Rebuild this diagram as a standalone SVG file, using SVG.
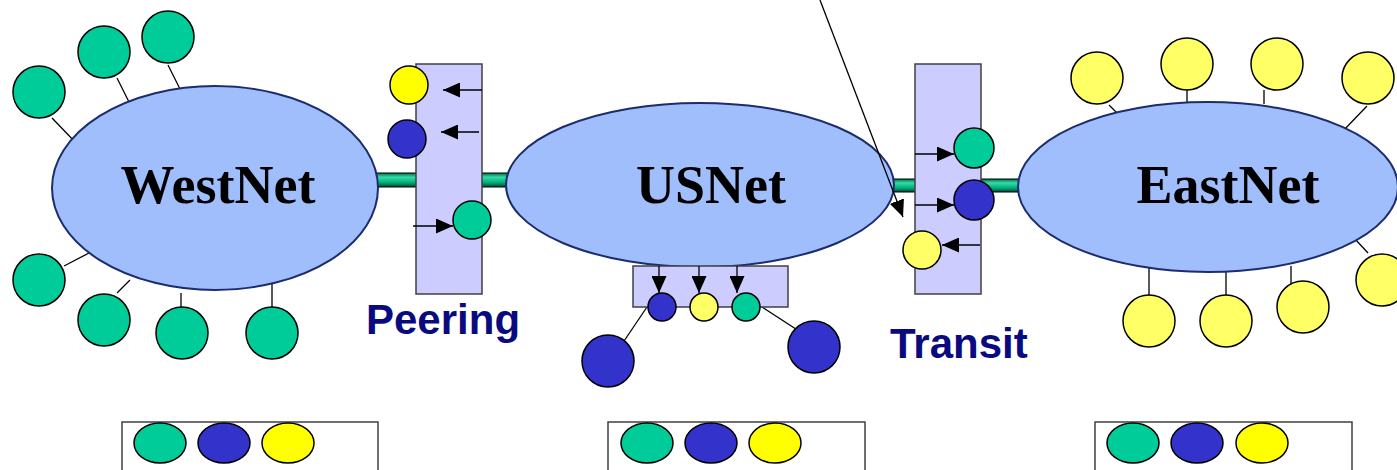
<svg xmlns="http://www.w3.org/2000/svg" width="1397" height="470" viewBox="0 0 1397 470">
<style>
.net{fill:#A0BEFC;stroke:#1C2C6C;stroke-width:2}
.netlbl{font-family:"Liberation Serif","Times New Roman",serif;font-weight:bold;font-size:54px;fill:#000;text-anchor:middle}
.lbl{font-family:"Liberation Sans",Arial,sans-serif;font-weight:bold;font-size:42px;fill:#0A0A80}
.box{fill:#CCCCFF;stroke:#404040;stroke-width:1.5}
.leg{fill:#FFFFFF;stroke:#404040;stroke-width:1.5}
.g{fill:#00CC99;stroke:#000;stroke-width:1.5}
.b{fill:#3333CC;stroke:#000;stroke-width:1.5}
.y{fill:#FFFF66;stroke:#000;stroke-width:1.5}
.yy{fill:#FFFF00;stroke:#000;stroke-width:1.5}
.ln{stroke:#000;stroke-width:1.3;fill:none}
.arr{stroke:#000;stroke-width:1.3;fill:none;marker-end:url(#ah)}
.pipe{fill:url(#pg);stroke:#000;stroke-width:1}
</style>
<defs>
<marker id="ah" markerUnits="userSpaceOnUse" markerWidth="17" markerHeight="15" refX="17" refY="7.5" orient="auto">
<path d="M0,0 L17,7.5 L0,15 Z" fill="#000"/>
</marker>
<linearGradient id="pg" x1="0" y1="0" x2="0" y2="1">
<stop offset="0" stop-color="#006644"/>
<stop offset="0.3" stop-color="#33DDAA"/>
<stop offset="0.7" stop-color="#00AA77"/>
<stop offset="1" stop-color="#004433"/>
</linearGradient>
</defs>
<g id="connectors">
<rect class="pipe" x="370" y="173" width="50" height="14"/>
<rect class="pipe" x="478" y="173" width="36" height="14"/>
<rect class="pipe" x="888" y="179" width="30" height="13"/>
<rect class="pipe" x="978" y="179" width="46" height="13"/>
<line class="ln" x1="52" y1="118" x2="78" y2="145"/>
<line class="ln" x1="117" y1="78" x2="130" y2="104"/>
<line class="ln" x1="168" y1="65" x2="181" y2="91"/>
<line class="ln" x1="64" y1="266" x2="89" y2="253"/>
<line class="ln" x1="117" y1="293" x2="130" y2="280"/>
<line class="ln" x1="181" y1="307" x2="181" y2="293"/>
<line class="ln" x1="272" y1="307" x2="272" y2="280"/>
<line class="ln" x1="1109" y1="105" x2="1122" y2="118"/>
<line class="ln" x1="1187" y1="90" x2="1187" y2="104"/>
<line class="ln" x1="1264" y1="90" x2="1264" y2="104"/>
<line class="ln" x1="1367" y1="106" x2="1342" y2="132"/>
<line class="ln" x1="1355" y1="239" x2="1368" y2="253"/>
<line class="ln" x1="1291" y1="266" x2="1291" y2="293"/>
<line class="ln" x1="1226" y1="266" x2="1226" y2="306"/>
<line class="ln" x1="1149" y1="266" x2="1149" y2="295"/>
<line class="ln" x1="647" y1="307" x2="620" y2="347"/>
<line class="ln" x1="762" y1="307" x2="802" y2="333"/>
</g>
<g id="westnet-satellites">
<circle class="g" cx="39" cy="92" r="26"/>
<circle class="g" cx="104" cy="52" r="26"/>
<circle class="g" cx="168" cy="37" r="26"/>
<circle class="g" cx="39" cy="280" r="26"/>
<circle class="g" cx="104" cy="320" r="26"/>
<circle class="g" cx="182" cy="333" r="26"/>
<circle class="g" cx="272" cy="333" r="26"/>
</g>
<g id="westnet">
<ellipse class="net" cx="215" cy="188" rx="163" ry="102"/>
<text class="netlbl" x="218" y="203">WestNet</text>
</g>
<g id="usnet">
<ellipse class="net" cx="700" cy="185" rx="194" ry="82"/>
<text class="netlbl" x="711" y="203">USNet</text>
</g>
<g id="eastnet">
<ellipse class="net" cx="1208" cy="187" rx="190" ry="85"/>
<text class="netlbl" x="1228" y="203">EastNet</text>
</g>
<g id="eastnet-satellites">
<circle class="y" cx="1097" cy="78" r="26"/>
<circle class="y" cx="1187" cy="64" r="26"/>
<circle class="y" cx="1277" cy="64" r="26"/>
<circle class="y" cx="1368" cy="78" r="26"/>
<circle class="y" cx="1382" cy="280" r="26"/>
<circle class="y" cx="1303" cy="307" r="26"/>
<circle class="y" cx="1226" cy="321" r="26"/>
<circle class="y" cx="1149" cy="321" r="26"/>
</g>
<g id="peering">
<rect class="box" x="416" y="64" width="66" height="230"/>
<circle class="yy" cx="409" cy="85" r="19"/>
<circle class="b" cx="407" cy="139" r="19"/>
<circle class="g" cx="472" cy="220" r="19"/>
<line class="arr" x1="482" y1="90" x2="443" y2="90"/>
<line class="arr" x1="479" y1="132" x2="441" y2="132"/>
<line class="arr" x1="413" y1="226" x2="453" y2="226"/>
<text class="lbl" x="366" y="334">Peering</text>
</g>
<g id="usnet-exchange">
<rect class="box" x="633" y="266" width="155" height="41"/>
<line class="arr" x1="659" y1="266" x2="659" y2="293"/>
<line class="arr" x1="699" y1="266" x2="699" y2="293"/>
<line class="arr" x1="737" y1="266" x2="737" y2="293"/>
<circle class="b" cx="662" cy="307" r="14"/>
<circle class="y" cx="704" cy="307" r="14"/>
<circle class="g" cx="746" cy="307" r="14"/>
<circle class="b" cx="608" cy="361" r="26"/>
<circle class="b" cx="814" cy="347" r="26"/>
</g>
<g id="transit">
<rect class="box" x="915" y="64" width="66" height="230"/>
<circle class="g" cx="974" cy="148" r="20"/>
<circle class="b" cx="974" cy="200" r="20"/>
<circle class="y" cx="922" cy="250" r="19"/>
<line class="arr" x1="915" y1="154" x2="954" y2="154"/>
<line class="arr" x1="915" y1="205" x2="954" y2="205"/>
<line class="arr" x1="980" y1="245" x2="942" y2="245"/>
<text class="lbl" x="890" y="358">Transit</text>
</g>
<g id="pointer">
<line class="arr" x1="820" y1="0" x2="903" y2="217"/>
</g>
<g id="legend-west">
<rect class="leg" x="122" y="422" width="256" height="60"/>
<ellipse class="g" cx="160" cy="443" rx="26" ry="20"/>
<ellipse class="b" cx="224" cy="443" rx="26" ry="20"/>
<ellipse class="yy" cx="288" cy="443" rx="26" ry="20"/>
</g>
<g id="legend-us">
<rect class="leg" x="608" y="422" width="257" height="60"/>
<ellipse class="g" cx="647" cy="443" rx="26" ry="20"/>
<ellipse class="b" cx="711" cy="443" rx="26" ry="20"/>
<ellipse class="yy" cx="775" cy="443" rx="26" ry="20"/>
</g>
<g id="legend-east">
<rect class="leg" x="1095" y="422" width="257" height="60"/>
<ellipse class="g" cx="1133" cy="443" rx="26" ry="20"/>
<ellipse class="b" cx="1197" cy="443" rx="26" ry="20"/>
<ellipse class="yy" cx="1262" cy="443" rx="26" ry="20"/>
</g>
</svg>
